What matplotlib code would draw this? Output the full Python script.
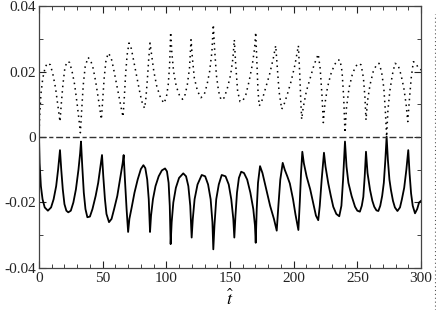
"""Recreation of the t-hat oscillation chart (solid / dotted / dash-dot)."""

import matplotlib

matplotlib.use("Agg")
import matplotlib.pyplot as plt   # noqa: E402
from matplotlib.lines import Line2D   # noqa: E402
from matplotlib.ticker import MultipleLocator, FuncFormatter   # noqa: E402

# lower (solid) curve, (t, value)
lower_pts = [
    (0, 0), (0.5, -0.008), (1.5, -0.015), (2.8, -0.019), (4.5, -0.0215),
    (7, -0.0225), (9.5, -0.0215), (11.5, -0.019), (13.5, -0.015),
    (15, -0.010), (16.5, -0.004),
    (17.5, -0.010), (18.7, -0.016), (20, -0.0205), (21.5, -0.0225),
    (23, -0.023), (25, -0.0225), (27, -0.020), (29, -0.016), (31, -0.010),
    (32.3, -0.005), (33, -0.0014),
    (34, -0.009), (35.2, -0.017), (36.5, -0.022), (38, -0.0245),
    (40, -0.0243), (42, -0.022), (44.5, -0.018), (46.5, -0.014),
    (48.3, -0.009), (49.5, -0.0055),
    (50.5, -0.012), (51.8, -0.019), (53, -0.0235), (55, -0.026),
    (57, -0.025), (59, -0.022), (61.5, -0.018), (64, -0.012),
    (65.7, -0.008), (66.5, -0.0055),
    (67.5, -0.013), (68.8, -0.022), (70, -0.029), (71, -0.025),
    (72.8, -0.0215), (75, -0.017), (77.5, -0.013), (80, -0.0098),
    (82, -0.0086), (83.5, -0.0095), (85, -0.013), (86.2, -0.019),
    (87.2, -0.029),
    (88, -0.024), (89.5, -0.019), (91.5, -0.015), (94, -0.012),
    (96.5, -0.0102), (99, -0.0096), (100.5, -0.0105), (101.8, -0.014),
    (102.7, -0.021), (103.4, -0.0327),
    (104.2, -0.026), (105.5, -0.020), (107.5, -0.0155), (110, -0.0125),
    (113.3, -0.0111), (115.5, -0.012), (117.3, -0.015), (118.8, -0.021),
    (119.9, -0.0307),
    (120.8, -0.025), (122.2, -0.019), (124.5, -0.0145), (127.8, -0.0116),
    (130.5, -0.012), (132.8, -0.0145), (134.8, -0.019), (136.2, -0.026),
    (136.9, -0.0343),
    (137.8, -0.027), (139.2, -0.019), (141.2, -0.0145), (143.5, -0.0116),
    (146.5, -0.012), (149, -0.0145), (151, -0.019), (152.6, -0.025),
    (153.4, -0.0307),
    (154.3, -0.024), (155.5, -0.017), (157, -0.0125), (158.8, -0.0106),
    (161, -0.011), (163.5, -0.013), (166, -0.017), (168.3, -0.022),
    (169.6, -0.027), (170.2, -0.0323),
    (171, -0.022), (172, -0.014), (173.6, -0.0089), (175.5, -0.011),
    (178.5, -0.016), (181.5, -0.021), (184.5, -0.025), (186.7, -0.0286),
    (188, -0.021), (189.5, -0.013), (191.4, -0.0079),
    (193, -0.010), (195, -0.012), (197, -0.0142), (199.5, -0.019),
    (201.4, -0.0236), (203.7, -0.0284), (204.8, -0.020), (205.8, -0.011),
    (206.8, -0.0045),
    (208, -0.008), (210.2, -0.0121), (213, -0.016), (215.4, -0.0203),
    (217.5, -0.024), (219.3, -0.0254), (220.5, -0.021), (222, -0.013),
    (223.8, -0.0048),
    (225, -0.009), (227.2, -0.0142), (229.2, -0.018), (231.1, -0.0213),
    (233.5, -0.0235), (235.8, -0.0242), (237.5, -0.021), (238.8, -0.013),
    (240.3, -0.0014),
    (241.5, -0.009), (243, -0.014), (245.5, -0.018), (248.2, -0.0213),
    (250, -0.0225), (252, -0.0228), (253.5, -0.021), (254.7, -0.0183),
    (255.8, -0.012), (256.8, -0.0045),
    (258, -0.011), (260, -0.0162), (261.8, -0.0195), (263.3, -0.0213),
    (265, -0.0224), (266.5, -0.0226), (268, -0.021), (269.5, -0.018),
    (270.8, -0.014), (272, -0.007), (273, 0.0001),
    (274, -0.007), (275.2, -0.013), (276.4, -0.0162), (278, -0.0195),
    (279.5, -0.0215), (281.5, -0.0226), (283.5, -0.0215), (285, -0.019),
    (286.8, -0.0155), (288.5, -0.010), (290, -0.004),
    (291, -0.011), (292.2, -0.0172), (293.5, -0.021), (295.3, -0.0233),
    (297, -0.022), (298.5, -0.020), (300, -0.0195),
]

# upper (dotted) curve
upper_pts = [
    (0, 0), (0.5, 0.006), (1.5, 0.013), (3, 0.018), (5, 0.0215),
    (7, 0.0226), (9, 0.022), (11, 0.019), (13, 0.015), (15, 0.009),
    (16.5, 0.0047),
    (17.5, 0.010), (18.8, 0.016), (20.3, 0.021), (22, 0.023),
    (24, 0.0228), (26, 0.020), (28, 0.016), (30, 0.010), (31.5, 0.005),
    (32.5, 0.0013),
    (33.5, 0.008), (34.8, 0.016), (36.3, 0.0215), (38.5, 0.0243),
    (40.5, 0.0235), (42.5, 0.021), (44.5, 0.017), (46.5, 0.012),
    (48, 0.008), (49, 0.0054),
    (50, 0.011), (51.2, 0.018), (52.5, 0.023), (54.3, 0.0256),
    (56.5, 0.0245), (58.5, 0.021), (61, 0.016), (63.5, 0.011),
    (65, 0.008), (66, 0.0062),
    (67, 0.012), (68, 0.019), (69.2, 0.025), (70.7, 0.0287),
    (72.5, 0.027), (74.5, 0.023), (77, 0.018), (79.5, 0.013),
    (81.5, 0.0098), (83, 0.0088),
    (84, 0.012), (85.2, 0.018), (86.2, 0.024), (87.2, 0.0287),
    (88.5, 0.025), (90.2, 0.020), (92.5, 0.0155), (95, 0.0125),
    (98, 0.0103),
    (100, 0.012), (101.5, 0.016), (102.6, 0.022), (103.4, 0.032),
    (104.3, 0.026), (105.7, 0.020), (107.8, 0.0155), (110.5, 0.0125),
    (112.8, 0.0115),
    (114.8, 0.013), (116.5, 0.016), (118.2, 0.021), (119.4, 0.0297),
    (120.5, 0.024), (122, 0.018), (124.5, 0.014), (127.2, 0.012),
    (129.8, 0.013), (132, 0.016), (134, 0.020), (135.8, 0.026),
    (136.9, 0.0343),
    (137.9, 0.027), (139.3, 0.019), (141, 0.014), (143, 0.0113),
    (145.5, 0.012), (148, 0.015), (150.5, 0.019), (152.3, 0.024),
    (153.4, 0.0297),
    (154.5, 0.022), (156, 0.014), (157.9, 0.0108), (160, 0.011),
    (162.5, 0.013), (165, 0.017), (167.5, 0.022), (169.3, 0.027),
    (170.2, 0.032),
    (171.2, 0.022), (172, 0.014), (173, 0.0095), (175, 0.011),
    (178, 0.015), (181, 0.019), (184, 0.024), (185.9, 0.0279),
    (187, 0.022), (188.5, 0.014), (190.6, 0.0085),
    (192.5, 0.010), (195, 0.013), (198, 0.017), (201, 0.022),
    (203.7, 0.0279), (204.8, 0.019), (205.6, 0.011), (206.3, 0.0054),
    (207.5, 0.009), (210, 0.014), (213, 0.018), (216, 0.022),
    (219.3, 0.0253), (220.8, 0.021), (222.2, 0.013), (223.3, 0.0044),
    (224.5, 0.010), (226.5, 0.015), (229, 0.019), (232, 0.022),
    (234.5, 0.0235), (236.4, 0.0235), (238, 0.020), (239.3, 0.012),
    (240.3, 0.0013),
    (241.5, 0.009), (243.5, 0.015), (246, 0.019), (248.5, 0.0215),
    (251, 0.0225), (253, 0.022), (254.8, 0.018), (256, 0.012),
    (256.8, 0.0052),
    (258, 0.011), (260, 0.016), (262.5, 0.020), (265, 0.022),
    (267, 0.0225), (269, 0.020), (270.8, 0.015), (272, 0.008),
    (273, 0.0001),
    (274, 0.008), (275.5, 0.014), (277.5, 0.019), (279.6, 0.0225),
    (282, 0.022), (284.3, 0.019), (286.5, 0.015), (288.3, 0.010),
    (289.6, 0.0047),
    (290.8, 0.011), (292.3, 0.018), (294, 0.023), (296, 0.0225),
    (298, 0.021), (300, 0.0205),
]

# zero reference line
t_zero = [0, 300]
y_zero = [0, 0]

x_ticks = [0, 50, 100, 150, 200, 250, 300]
y_ticks = [-0.04, -0.02, 0, 0.02, 0.04]


def main() -> None:
    plt.rcParams["font.family"] = ["Liberation Serif", "DejaVu Serif"]
    plt.rcParams["mathtext.fontset"] = "stix"
    plt.rcParams["axes.unicode_minus"] = False

    fig = plt.figure(figsize=(4.36, 3.10), dpi=100)
    ax = fig.add_axes([0.0894, 0.1355, 0.8762, 0.8451])

    t_lo, y_lo = zip(*lower_pts)
    t_up, y_up = zip(*upper_pts)
    ax.plot(t_lo, y_lo, color="black", lw=1.3, solid_joinstyle="round")
    ax.plot(t_up, y_up, color="black", lw=1.1, linestyle=(0, (1, 2.6)))
    ax.plot(t_zero, y_zero, color="#333333", lw=1.0,
            linestyle=(0, (5, 2, 3, 2)))

    ax.set_xlim(0, 300)
    ax.set_ylim(-0.04, 0.04)
    ax.set_xticks(x_ticks)
    ax.set_yticks(y_ticks)
    ax.xaxis.set_minor_locator(MultipleLocator(10))
    ax.yaxis.set_minor_locator(MultipleLocator(0.01))
    ax.yaxis.set_major_formatter(FuncFormatter(lambda v, _: f"{v:g}"))
    ax.tick_params(which="both", direction="in", top=True, right=True,
                   labelsize=11, colors="#222222")
    ax.tick_params(which="major", length=5, width=0.8)
    ax.tick_params(which="minor", length=3, width=0.6)
    ax.tick_params(axis="x", pad=3)
    ax.tick_params(axis="y", pad=2)
    for s in ax.spines.values():
        s.set_color("#444444")
        s.set_linewidth(0.9)

    ax.set_xlabel(r"$\hat{t}$", fontsize=13, labelpad=3)

    # dotted rule at the far right of the image
    fig.add_artist(Line2D([0.997, 0.997], [0.0, 0.955],
                          transform=fig.transFigure, color="#555555",
                          lw=0.8, linestyle=(0, (1, 2.5))))

    fig.savefig("out.png", dpi=100)
    plt.close(fig)


if __name__ == "__main__":
    main()
